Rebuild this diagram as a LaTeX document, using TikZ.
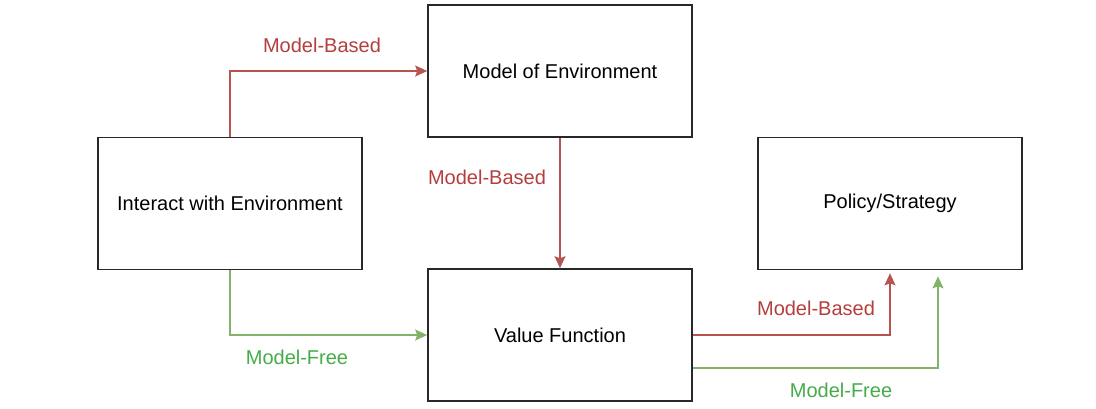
\documentclass[tikz,border=0pt]{standalone}
\usepackage{fontspec}
\setmainfont{Liberation Sans}
\definecolor{boxgray}{RGB}{40, 40, 40}
\definecolor{basedred}{RGB}{184, 84, 80}
\definecolor{basedtext}{RGB}{180, 62, 62}
\definecolor{freegreen}{RGB}{130, 179, 102}
\definecolor{freetext}{RGB}{68, 172, 72}
\usepackage{tikz}
\usetikzlibrary{arrows.meta, positioning}

\tikzset{
  stagebox/.style={draw=boxgray, line width=0.8pt, minimum width=132pt, minimum height=66pt, inner sep=0pt, font=\fontsize{10}{12}\selectfont},
  basedline/.style={draw=basedred, line width=0.6pt, -{Stealth[length=6pt, width=5.5pt, inset=1pt]}},
  freeline/.style={draw=freegreen, line width=0.6pt, -{Stealth[length=6pt, width=5.5pt, inset=1pt]}},
  basedlabel/.style={text=basedtext, font=\fontsize{10}{12}\selectfont},
  freelabel/.style={text=freetext, font=\fontsize{10}{12}\selectfont}
}

\begin{document}
\begin{tikzpicture}[x=0.5pt, y=-0.5pt]
  \useasboundingbox (0, 0) rectangle (1096, 408);

  % Stages
  \node[stagebox] (interact) at (230, 203.5) {Interact with Environment};
  \node[stagebox] (envmodel) at (560, 71) {Model of Environment};
  \node[stagebox] (valuefn) at (560, 335) {Value Function};
  \node[stagebox] (policy) at (890, 203.5) {Policy/Strategy};

  % Model-based route
  \draw[basedline] (interact.north) |- (envmodel.west);
  \draw[basedline] (envmodel.south) -- (valuefn.north);
  \draw[basedline, shorten >=1.5pt] (valuefn.east) -| (policy.south);

  % Model-free route
  \draw[freeline] (interact.south) |- (valuefn.west);
  \draw[freeline, shorten >=3pt] ([yshift=-16.5pt]valuefn.east) -| ([xshift=24pt]policy.south);

  % Labels
  \node[basedlabel] (toplabel) at (322, 45) {Model-Based};
  \node[basedlabel] (midlabel) at (487, 177) {Model-Based};
  \node[freelabel] (leftlabel) at (297, 357) {Model-Free};
  \node[basedlabel] (rightlabel) at (816, 308) {Model-Based};
  \node[freelabel] (lowlabel) at (841, 390) {Model-Free};
\end{tikzpicture}
\end{document}
